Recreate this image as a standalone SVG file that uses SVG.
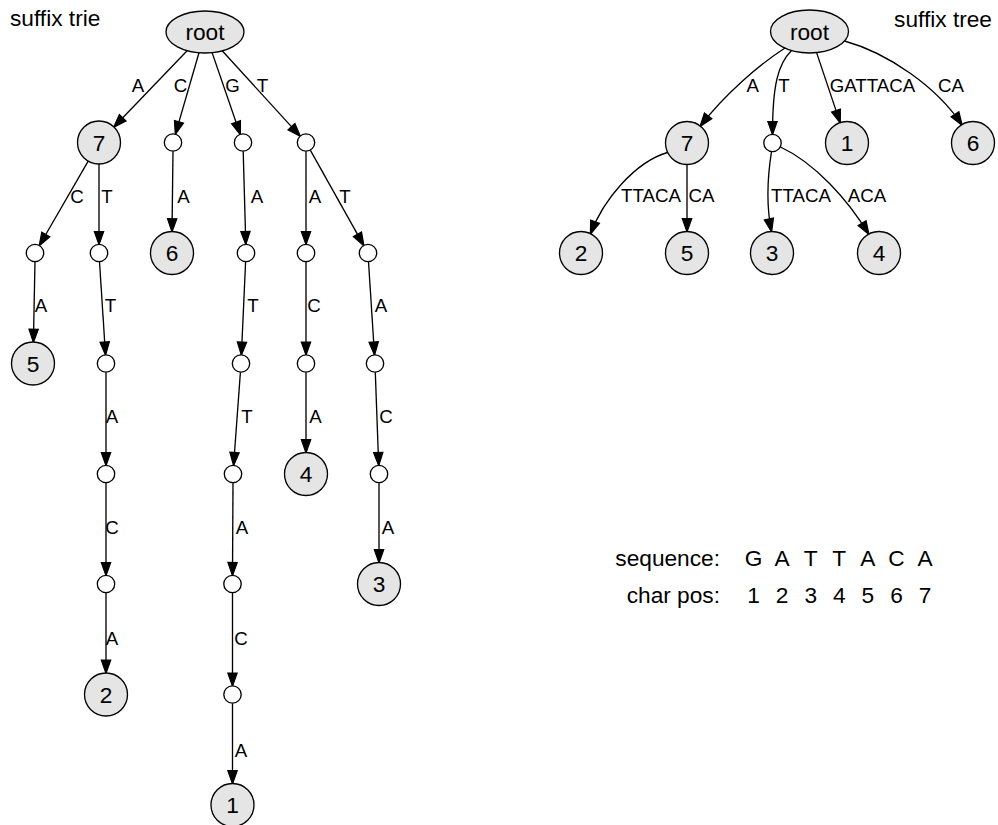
<svg xmlns="http://www.w3.org/2000/svg" width="998" height="825" viewBox="0 0 998 825">
  <style>
    text { font-family: "Liberation Sans", Arial, sans-serif; fill: #000; }
    .title { font-size: 22.7px; }
    .nlab { font-size: 22.7px; text-anchor: middle; }
    .elab { font-size: 18.7px; text-anchor: middle; }
    .node { fill: #e5e5e5; stroke: #000; stroke-width: 1.33; }
    .pt { fill: #fff; stroke: #000; stroke-width: 1.33; }
    .edge { fill: none; stroke: #000; stroke-width: 1.33; marker-end: url(#arrow); }
    .seq { font-size: 22.7px; text-anchor: middle; }
    .hdr { font-size: 22.7px; text-anchor: end; }
  </style>
  <defs>
    <marker id="arrow" markerUnits="userSpaceOnUse" viewBox="0 0 13.3 9.34" markerWidth="13.3" markerHeight="9.34" refX="12.8" refY="4.67" orient="auto" overflow="visible">
      <path d="M0,0 L13.3,4.67 L0,9.34 Z" fill="#000" stroke="#000" stroke-width="1.2" stroke-linejoin="miter"/>
    </marker>
  </defs>

  <rect width="998" height="825" fill="#fff"/>

  <!-- headings -->
  <text class="title" x="10" y="26">suffix trie</text>
  <text class="title" x="992" y="27" text-anchor="end">suffix tree</text>

  <!-- ===== suffix trie: connectors ===== -->
  <g id="trie-edges">
    <line class="edge" x1="187.1" y1="50.7" x2="113.9" y2="127.0"/>
    <line class="edge" x1="199" y1="52.8" x2="175.4" y2="134.1"/>
    <line class="edge" x1="212.1" y1="52.6" x2="240.2" y2="134.3"/>
    <line class="edge" x1="222.2" y1="50.8" x2="300.1" y2="136.1"/>

    <line class="edge" x1="88.2" y1="161.1" x2="39.4" y2="245.5"/>
    <line class="edge" x1="99" y1="164" x2="99" y2="244.3"/>
    <line class="edge" x1="173" y1="151.2" x2="172" y2="231.5"/>
    <line class="edge" x1="243.2" y1="151.2" x2="245.8" y2="244.3"/>
    <line class="edge" x1="306" y1="151.2" x2="306" y2="244.3"/>
    <line class="edge" x1="310.3" y1="150.1" x2="363.7" y2="245.4"/>

    <line class="edge" x1="35" y1="261.7" x2="33.4" y2="342"/>
    <line class="edge" x1="99.5" y1="261.7" x2="105.5" y2="354.8"/>
    <line class="edge" x1="245.6" y1="261.7" x2="241.4" y2="354.8"/>
    <line class="edge" x1="306" y1="261.7" x2="306" y2="354.8"/>
    <line class="edge" x1="368.5" y1="261.7" x2="374.5" y2="354.8"/>

    <line class="edge" x1="106" y1="372.2" x2="106" y2="465.3"/>
    <line class="edge" x1="240.4" y1="372.2" x2="233.6" y2="465.3"/>
    <line class="edge" x1="306" y1="372.2" x2="306" y2="452.5"/>
    <line class="edge" x1="375.3" y1="372.2" x2="378.7" y2="465.3"/>

    <line class="edge" x1="106" y1="482.7" x2="106" y2="575.3"/>
    <line class="edge" x1="233" y1="482.7" x2="232.5" y2="575.3"/>
    <line class="edge" x1="379" y1="482.7" x2="379" y2="562.5"/>

    <line class="edge" x1="106" y1="592.7" x2="106" y2="673"/>
    <line class="edge" x1="232.5" y1="592.7" x2="232.5" y2="685.8"/>

    <line class="edge" x1="232.5" y1="703.2" x2="232.5" y2="783.5"/>
  </g>

  <!-- edge labels of the trie -->
  <g id="trie-edge-labels">
    <text class="elab" x="138" y="91.7">A</text>
    <text class="elab" x="180.5" y="91.7">C</text>
    <text class="elab" x="232.5" y="91.7">G</text>
    <text class="elab" x="262.5" y="91.7">T</text>

    <text class="elab" x="77" y="202.7">C</text>
    <text class="elab" x="107" y="202.7">T</text>
    <text class="elab" x="183.5" y="202.7">A</text>
    <text class="elab" x="257" y="202.7">A</text>
    <text class="elab" x="315" y="202.7">A</text>
    <text class="elab" x="345" y="202.7">T</text>

    <text class="elab" x="41" y="312">A</text>
    <text class="elab" x="110.5" y="312">T</text>
    <text class="elab" x="253" y="312">T</text>
    <text class="elab" x="314" y="312">C</text>
    <text class="elab" x="381" y="312">A</text>

    <text class="elab" x="112" y="423">A</text>
    <text class="elab" x="247" y="423">T</text>
    <text class="elab" x="315.5" y="423">A</text>
    <text class="elab" x="386" y="423">C</text>

    <text class="elab" x="112" y="534">C</text>
    <text class="elab" x="242" y="534">A</text>
    <text class="elab" x="388" y="534">A</text>

    <text class="elab" x="112" y="644.5">A</text>
    <text class="elab" x="241" y="644.5">C</text>

    <text class="elab" x="241" y="756.5">A</text>
  </g>

  <!-- ===== suffix trie: nodes ===== -->
  <g id="trie-root"><ellipse class="node" cx="205" cy="32" rx="39" ry="21"/><text class="nlab" x="205" y="40">root</text></g>
  <g id="trie-7"><circle class="node" cx="99" cy="142.5" r="21.5"/><text class="nlab" x="99" y="150.6">7</text></g>
  <g id="trie-c"><circle class="pt" cx="173" cy="142.5" r="8.7"/></g>
  <g id="trie-g"><circle class="pt" cx="243" cy="142.5" r="8.7"/></g>
  <g id="trie-t"><circle class="pt" cx="306" cy="142.5" r="8.7"/></g>

  <g id="trie-ac"><circle class="pt" cx="35" cy="253" r="8.7"/></g>
  <g id="trie-at"><circle class="pt" cx="99" cy="253" r="8.7"/></g>
  <g id="trie-6"><circle class="node" cx="172" cy="253" r="21.5"/><text class="nlab" x="172" y="261.1">6</text></g>
  <g id="trie-ga"><circle class="pt" cx="246" cy="253" r="8.7"/></g>
  <g id="trie-ta"><circle class="pt" cx="306" cy="253" r="8.7"/></g>
  <g id="trie-tt"><circle class="pt" cx="368" cy="253" r="8.7"/></g>

  <g id="trie-5"><circle class="node" cx="33" cy="363.5" r="21.5"/><text class="nlab" x="33" y="371.6">5</text></g>
  <g id="trie-att"><circle class="pt" cx="106" cy="363.5" r="8.7"/></g>
  <g id="trie-gat"><circle class="pt" cx="241" cy="363.5" r="8.7"/></g>
  <g id="trie-tac"><circle class="pt" cx="306" cy="363.5" r="8.7"/></g>
  <g id="trie-tta"><circle class="pt" cx="375" cy="363.5" r="8.7"/></g>

  <g id="trie-atta"><circle class="pt" cx="106" cy="474" r="8.7"/></g>
  <g id="trie-gatt"><circle class="pt" cx="233" cy="474" r="8.7"/></g>
  <g id="trie-4"><circle class="node" cx="306" cy="474" r="21.5"/><text class="nlab" x="306" y="482.1">4</text></g>
  <g id="trie-ttac"><circle class="pt" cx="379" cy="474" r="8.7"/></g>

  <g id="trie-attac"><circle class="pt" cx="106" cy="584" r="8.7"/></g>
  <g id="trie-gatta"><circle class="pt" cx="232.5" cy="584" r="8.7"/></g>
  <g id="trie-3"><circle class="node" cx="379" cy="584" r="21.5"/><text class="nlab" x="379" y="592.1">3</text></g>

  <g id="trie-2"><circle class="node" cx="106" cy="694.5" r="21.5"/><text class="nlab" x="106" y="702.6">2</text></g>
  <g id="trie-gattac"><circle class="pt" cx="232.5" cy="694.5" r="8.7"/></g>

  <g id="trie-1"><circle class="node" cx="232.5" cy="805" r="21.5"/><text class="nlab" x="232.5" y="813.1">1</text></g>

  <!-- ===== suffix tree: connectors ===== -->
  <g id="tree-edges">
    <path class="edge" d="M785,48 C760,64 725,94 700.3,126.1"/>
    <path class="edge" d="M791.5,50.5 C778,64 772.5,85 772.5,134.3"/>
    <line class="edge" x1="816.6" y1="52.6" x2="840.1" y2="122.6"/>
    <path class="edge" d="M844.5,41 C888,53 937,87 962,125"/>

    <path class="edge" d="M667.5,152.5 C635,162 603,200 590.6,233.8"/>
    <line class="edge" x1="687" y1="164.5" x2="687" y2="231.5"/>
    <path class="edge" d="M771.5,151.6 C767,180 766,205 771.5,231.5"/>
    <path class="edge" d="M780.5,147 C815,163 848,200 868.7,234.1"/>
  </g>

  <g id="tree-edge-labels">
    <text class="elab" x="752.7" y="91.7">A</text>
    <text class="elab" x="784" y="91.7">T</text>
    <text class="elab" x="872.5" y="91.7">GATTACA</text>
    <text class="elab" x="951" y="91.7">CA</text>
    <text class="elab" x="651" y="201.7">TTACA</text>
    <text class="elab" x="701.5" y="201.7">CA</text>
    <text class="elab" x="801" y="201.7">TTACA</text>
    <text class="elab" x="867" y="201.7">ACA</text>
  </g>

  <!-- ===== suffix tree: nodes ===== -->
  <g id="tree-root"><ellipse class="node" cx="809.5" cy="31.5" rx="39" ry="21.5"/><text class="nlab" x="809.5" y="39.6">root</text></g>
  <g id="tree-7"><circle class="node" cx="687" cy="143" r="21.5"/><text class="nlab" x="687" y="151.1">7</text></g>
  <g id="tree-t"><circle class="pt" cx="772.5" cy="143" r="8.7"/></g>
  <g id="tree-1"><circle class="node" cx="847" cy="143" r="21.5"/><text class="nlab" x="847" y="151.1">1</text></g>
  <g id="tree-6"><circle class="node" cx="973" cy="143" r="21.5"/><text class="nlab" x="973" y="151.1">6</text></g>
  <g id="tree-2"><circle class="node" cx="581" cy="253" r="21.5"/><text class="nlab" x="581" y="261.1">2</text></g>
  <g id="tree-5"><circle class="node" cx="687" cy="253" r="21.5"/><text class="nlab" x="687" y="261.1">5</text></g>
  <g id="tree-3"><circle class="node" cx="772" cy="253" r="21.5"/><text class="nlab" x="772" y="261.1">3</text></g>
  <g id="tree-4"><circle class="node" cx="879" cy="253" r="21.5"/><text class="nlab" x="879" y="261.1">4</text></g>

  <!-- sequence / position table -->
  <g id="sequence-table">
    <text class="hdr" x="720" y="566">sequence:</text>
    <text class="seq" x="753.5" y="566">G</text>
    <text class="seq" x="782.1" y="566">A</text>
    <text class="seq" x="810.7" y="566">T</text>
    <text class="seq" x="839.3" y="566">T</text>
    <text class="seq" x="867.9" y="566">A</text>
    <text class="seq" x="896.5" y="566">C</text>
    <text class="seq" x="925.1" y="566">A</text>

    <text class="hdr" x="720" y="603">char pos:</text>
    <text class="seq" x="753.5" y="603">1</text>
    <text class="seq" x="782.1" y="603">2</text>
    <text class="seq" x="810.7" y="603">3</text>
    <text class="seq" x="839.3" y="603">4</text>
    <text class="seq" x="867.9" y="603">5</text>
    <text class="seq" x="896.5" y="603">6</text>
    <text class="seq" x="925.1" y="603">7</text>
  </g>
</svg>
